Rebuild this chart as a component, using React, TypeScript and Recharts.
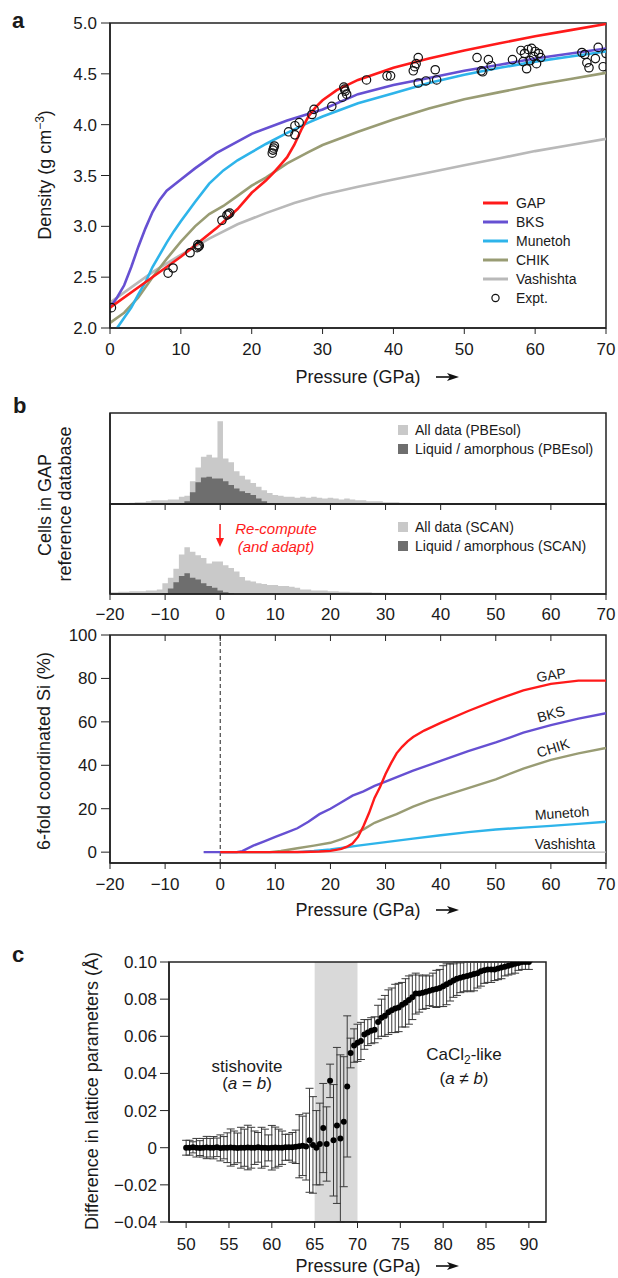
import React from 'react';
import {
  ComposedChart, Line, Scatter, XAxis, YAxis, AreaChart, Area,
  ReferenceLine, ReferenceArea, ScatterChart, ErrorBar,
} from 'recharts';

const FONT = '"Liberation Sans", Arial, Helvetica, sans-serif';
const AX = '#222222';
const TXT = '#1a1a1a';

const C_GAP = '#ff1a1a';
const C_BKS = '#6650d2';
const C_MUN = '#2eb4ea';
const C_CHIK = '#999c74';
const C_VAS = '#b9b9b9';
const C_LIGHT = '#c9c9c9';
const C_DARK = '#6e6e6e';

// ---------- Panel a: density vs pressure ----------
const gapP = [0, 5, 10, 15, 18, 20, 22, 23, 24, 25, 26, 27, 28, 29, 30, 32, 35, 40, 45, 50, 55, 60, 65, 70];
const gapRho = [2.2, 2.45, 2.7, 2.98, 3.17, 3.33, 3.45, 3.52, 3.6, 3.68, 3.8, 3.95, 4.08, 4.17, 4.24, 4.34, 4.44, 4.56, 4.65, 4.73, 4.8, 4.87, 4.93, 4.99];
const bksP = [0, 1, 2, 3, 4, 5, 6, 7, 8, 10, 12, 15, 20, 25, 30, 35, 40, 45, 50, 55, 60, 65, 70];
const bksRho = [2.2, 2.3, 2.42, 2.6, 2.8, 2.98, 3.14, 3.26, 3.35, 3.46, 3.57, 3.72, 3.91, 4.04, 4.15, 4.3, 4.39, 4.46, 4.53, 4.59, 4.65, 4.7, 4.75];
const munP = [1, 2, 3, 4, 5, 6, 7, 8, 9, 10, 12, 14, 16, 18, 20, 22, 25, 28, 30, 35, 40, 45, 50, 55, 60, 65, 70];
const munRho = [2.0, 2.1, 2.2, 2.33, 2.45, 2.6, 2.72, 2.84, 2.95, 3.05, 3.24, 3.42, 3.55, 3.65, 3.73, 3.81, 3.92, 4.02, 4.08, 4.21, 4.31, 4.41, 4.49, 4.56, 4.62, 4.67, 4.72];
const chikP = [0, 2, 4, 6, 8, 10, 12, 14, 16, 18, 20, 22, 25, 28, 30, 35, 40, 45, 50, 55, 60, 65, 70];
const chikRho = [2.05, 2.15, 2.3, 2.5, 2.68, 2.85, 3.0, 3.12, 3.2, 3.3, 3.4, 3.48, 3.62, 3.73, 3.8, 3.93, 4.05, 4.16, 4.25, 4.32, 4.39, 4.45, 4.51];
const vasP = [0, 3, 6, 10, 14, 18, 22, 26, 30, 35, 40, 45, 50, 55, 60, 65, 70];
const vasRho = [2.25, 2.4, 2.55, 2.72, 2.88, 3.02, 3.13, 3.23, 3.31, 3.39, 3.46, 3.53, 3.6, 3.67, 3.74, 3.8, 3.86];
const exptP = [0.2, 8.2, 8.9, 11.3, 12.3, 12.5, 12.6, 12.4, 15.8, 16.5, 16.7, 16.9, 22.9, 23.0, 23.1, 23.2, 25.2, 26.1, 26.1, 26.7, 28.5, 28.8, 31.3, 32.8, 33.0, 33.2, 33.4, 33.1, 36.2, 39.1, 39.6, 43.5, 43.2, 43.0, 42.8, 43.5, 44.6, 45.9, 46.1, 51.8, 52.4, 52.6, 53.4, 53.8, 56.8, 58.0, 58.5, 59.0, 59.5, 60.0, 60.5, 58.3, 59.3, 60.2, 58.8, 59.8, 60.8, 66.6, 67.0, 67.3, 67.6, 68.5, 68.9, 69.6, 70.0];
const exptRho = [2.2, 2.54, 2.59, 2.74, 2.79, 2.8, 2.81, 2.82, 3.06, 3.11, 3.12, 3.13, 3.72, 3.75, 3.77, 3.79, 3.93, 3.9, 3.99, 4.02, 4.1, 4.15, 4.18, 4.27, 4.37, 4.33, 4.3, 4.35, 4.44, 4.48, 4.48, 4.66, 4.6, 4.57, 4.53, 4.41, 4.43, 4.54, 4.44, 4.66, 4.53, 4.52, 4.64, 4.58, 4.64, 4.73, 4.7, 4.74, 4.75, 4.72, 4.7, 4.62, 4.63, 4.6, 4.55, 4.67, 4.66, 4.71, 4.69, 4.61, 4.56, 4.65, 4.76, 4.57, 4.7];
const densityTicksX = [0, 10, 20, 30, 40, 50, 60, 70];
const densityTicksY = [2.0, 2.5, 3.0, 3.5, 4.0, 4.5, 5.0];

// ---------- Panel b: histograms ----------
const histP = [-20, -19, -18, -17, -16, -15, -14, -13, -12, -11, -10, -9, -8, -7, -6, -5, -4, -3, -2, -1, 0, 1, 2, 3, 4, 5, 6, 7, 8, 9, 10, 11, 12, 13, 14, 15, 16, 17, 18, 19, 20, 21, 22, 23, 24, 25, 26, 27, 28, 29, 30, 31, 32, 33, 34, 35, 36, 37, 38, 39, 40, 41, 42, 43, 44, 45];
const pbeAll = [0.5, 0.5, 1, 1, 1.5, 2, 2, 3, 4, 4, 4, 5, 5, 8, 9, 25, 40, 52, 54, 51, 91, 50, 46, 36, 31, 27, 23, 19, 15, 12, 10, 9, 8, 8, 7, 8, 7, 8, 7, 6, 7, 6, 5, 6, 5, 4, 4, 3, 3, 3, 2, 2, 2, 1.5, 1.5, 1, 1, 1, 1, 0.5, 0, 0, 0, 0, 0, 0];
const pbeLiq = [0, 0, 0, 0, 0, 0, 0, 0, 0, 0, 0, 0, 0, 1, 3, 13, 24, 29, 30, 28, 28, 25, 21, 17, 14, 12, 10, 6, 3, 1, 0, 0, 0, 0, 0, 0, 0, 0, 0, 0, 0, 0, 0, 0, 0, 0, 0, 0, 0, 0, 0, 0, 0, 0, 0, 0, 0, 0, 0, 0, 0, 0, 0, 0, 0, 0];
const scanAll = [2, 2, 2.5, 2.5, 3, 3, 3, 4, 4, 5, 12, 18, 28, 44, 52, 47, 43, 40, 34, 36, 36, 32, 29, 25, 19, 15, 14, 12, 11, 10, 10, 9, 9, 8, 7, 5, 5, 4, 4, 4, 3, 3, 2.5, 2.5, 2, 2, 2, 2, 1.5, 1.5, 1.5, 1, 1, 1, 1, 1, 0.5, 0.5, 0.5, 0.5, 0.5, 0.3, 0, 0, 0, 0];
const scanLiq = [0, 0, 0, 0, 0, 0, 0, 0, 0, 0, 1, 6, 13, 20, 23, 18, 16, 12, 9, 7, 4, 2, 1, 0, 0, 0, 0, 0, 0, 0, 0, 0, 0, 0, 0, 0, 0, 0, 0, 0, 0, 0, 0, 0, 0, 0, 0, 0, 0, 0, 0, 0, 0, 0, 0, 0, 0, 0, 0, 0, 0, 0, 0, 0, 0, 0];
const bTicksX = [-20, -10, 0, 10, 20, 30, 40, 50, 60, 70];

// ---------- Panel b: 6-fold coordinated Si ----------
const gap6P = [0, 10, 15, 18, 20, 22, 23, 24, 25, 26, 27, 28, 29, 30, 31, 32, 33, 34, 35, 37, 40, 45, 50, 55, 60, 65, 70];
const gap6V = [0, 0, 0.1, 0.3, 0.6, 1.5, 2.5, 4, 7, 12, 18, 25, 30, 36, 41, 45.5, 48.5, 51, 53, 56, 59.5, 65, 70, 74.5, 77.5, 79, 79];
const bks6P = [-3, 3, 4, 6, 8, 10, 12, 14, 16, 18, 20, 22, 24, 26, 28, 30, 35, 40, 45, 50, 55, 60, 65, 70];
const bks6V = [0, 0, 0.5, 3, 5, 7, 9, 11, 14, 17.5, 20, 23, 26, 28, 30.5, 32.5, 37.5, 42, 46.5, 50.5, 55, 58.5, 61.5, 64];
const chik6P = [0, 9, 11, 14, 17, 20, 22, 24, 26, 28, 30, 32, 35, 38, 40, 45, 50, 55, 60, 65, 70];
const chik6V = [0, 0, 0.5, 1.8, 3, 4.3, 6, 8, 10.5, 13.5, 15.5, 17.5, 21, 23.8, 25.5, 29.5, 33.5, 38.5, 42.5, 45.5, 48];
const mun6P = [0, 14, 17, 20, 25, 30, 35, 40, 45, 50, 55, 60, 65, 70];
const mun6V = [0, 0, 0.5, 1.2, 3, 4.6, 6.2, 7.8, 9.2, 10.4, 11.3, 12.1, 13, 14];
const vas6P = [-3, 70];
const vas6V = [0, 0];
const sixTicksY = [0, 20, 40, 60, 80, 100];
const sixDomainY = [-5, 100];

// ---------- Panel c: lattice parameter difference ----------
const diffP = [50.0, 50.4, 50.8, 51.2, 51.6, 52.0, 52.4, 52.8, 53.2, 53.6, 54.0, 54.4, 54.8, 55.2, 55.6, 56.0, 56.4, 56.8, 57.2, 57.6, 58.0, 58.4, 58.8, 59.2, 59.6, 60.0, 60.4, 60.8, 61.2, 61.6, 62.0, 62.4, 62.8, 63.2, 63.6, 64.0, 64.4, 64.8, 65.2, 65.6, 66.0, 66.4, 66.8, 67.2, 67.6, 68.0, 68.4, 68.8, 69.2, 69.6, 70.0, 70.4, 70.8, 71.2, 71.6, 72.0, 72.4, 72.8, 73.2, 73.6, 74.0, 74.4, 74.8, 75.2, 75.6, 76.0, 76.4, 76.8, 77.2, 77.6, 78.0, 78.4, 78.8, 79.2, 79.6, 80.0, 80.4, 80.8, 81.2, 81.6, 82.0, 82.4, 82.8, 83.2, 83.6, 84.0, 84.4, 84.8, 85.2, 85.6, 86.0, 86.4, 86.8, 87.2, 87.6, 88.0, 88.4, 88.8, 89.2, 89.6, 90.0];
const diffV = [0, 0, 0.0002, 0, -0.0002, 0, 0.0001, 0, 0, 0.0002, -0.0001, 0, 0, 0.0001, 0, -0.0001, 0, 0, 0.0001, 0, 0, 0.0002, 0, 0, -0.0001, 0, 0.0001, 0, 0, 0.0002, 0.0003, 0.0002, 0.0005, 0.0008, 0.001, 0.0006,
  0.004, 0.0015, 0, 0.002, 0.0106, 0.002, 0.036, 0.004, 0.012, 0.005, 0.014, 0.033, 0.051, 0.055, 0.0565,
  0.0575, 0.061, 0.062, 0.063, 0.0635, 0.0677, 0.07, 0.071, 0.073, 0.074,
  0.075, 0.0755, 0.077, 0.078, 0.0795, 0.081, 0.083, 0.083, 0.0835, 0.084,
  0.0845, 0.085, 0.0855, 0.086, 0.087, 0.088, 0.089, 0.09, 0.091, 0.0915,
  0.092, 0.0925, 0.093, 0.0935, 0.094, 0.095, 0.0955, 0.096, 0.096, 0.096,
  0.0965, 0.097, 0.0975, 0.098, 0.0985, 0.099, 0.0995, 0.1, 0.1, 0.1];
const diffErr = [0.004, 0.004, 0.003, 0.005, 0.004, 0.005, 0.006, 0.005, 0.006, 0.005, 0.007, 0.006, 0.008, 0.01, 0.009, 0.008, 0.011, 0.01, 0.012, 0.011, 0.009, 0.008, 0.011, 0.01, 0.007, 0.012, 0.011, 0.01, 0.009, 0.007, 0.007, 0.008, 0.009, 0.017, 0.016, 0.018,
  0.028, 0.026, 0.02, 0.022, 0.024, 0.02, 0.009, 0.03, 0.042, 0.045, 0.035, 0.038, 0.008, 0.009, 0.01,
  0.01, 0.008, 0.007, 0.007, 0.007, 0.009, 0.01, 0.011, 0.012, 0.012,
  0.013, 0.013, 0.012, 0.013, 0.013, 0.012, 0.011, 0.01, 0.009, 0.009,
  0.008, 0.009, 0.01, 0.01, 0.011, 0.011, 0.01, 0.009, 0.009, 0.008,
  0.008, 0.008, 0.009, 0.009, 0.008, 0.008, 0.007, 0.007, 0.007, 0.006,
  0.006, 0.006, 0.005, 0.005, 0.005, 0.005, 0.004, 0.004, 0.004, 0.004];
const cTicksX = [50, 55, 60, 65, 70, 75, 80, 85, 90];
const cTicksY = [-0.04, -0.02, 0, 0.02, 0.04, 0.06, 0.08, 0.1];
const cDomainX = [48, 92];
const cDomainY = [-0.04, 0.1];

// ---------- helpers ----------
const xy = (xs: number[], ys: number[]) => xs.map((x, i) => ({ x, y: ys[i] }));
const minus = (s: string) => s.replace('-', '\u2212');
const tickStyle = { fontSize: 17, fill: TXT, fontFamily: FONT };

const gapData = xy(gapP, gapRho);
const bksData = xy(bksP, bksRho);
const munData = xy(munP, munRho);
const chikData = xy(chikP, chikRho);
const vasData = xy(vasP, vasRho);
const exptData = xy(exptP, exptRho);

const pbeData = histP.map((p, i) => ({ p, all: pbeAll[i], liq: pbeLiq[i] }));
const scanData = histP.map((p, i) => ({ p, all: scanAll[i], liq: scanLiq[i] }));

const gap6 = xy(gap6P, gap6V);
const bks6 = xy(bks6P, bks6V);
const chik6 = xy(chik6P, chik6V);
const mun6 = xy(mun6P, mun6V);
const vas6 = xy(vas6P, vas6V);
// inward tick marks on the top frame of the 6-fold plot: 6 px long (plot is 228 px tall)
const topTickLen = (6 / 228) * (sixDomainY[1] - sixDomainY[0]);

// error bars are clipped at the plot frame, as in the original figure
const diffData = diffP.map((x, i) => {
  const y = diffV[i];
  const e = diffErr[i];
  return { x, y, err: [Math.min(e, y - cDomainY[0]), Math.min(e, cDomainY[1] - y)] };
});

const openCircle = (p: any) => (
  <circle cx={p.cx} cy={p.cy} r={4.2} fill="none" stroke="#111" strokeWidth={1.2} />
);
const filledDot = (p: any) => <circle cx={p.cx} cy={p.cy} r={3} fill="#000" />;

const abs = (left: number, top: number, extra: React.CSSProperties = {}): React.CSSProperties => ({
  position: 'absolute', left, top, fontFamily: FONT, color: TXT, whiteSpace: 'nowrap', lineHeight: 1, ...extra,
});

const Centered = ({ x, y, size, rot = 0, color = TXT, italic = false, children }: any) => (
  <div style={abs(x, y, {
    transform: `translate(-50%, -50%) rotate(${rot}deg)`, fontSize: size, color,
    fontStyle: italic ? 'italic' : 'normal',
  })}>{children}</div>
);

const PressureTitle = ({ y }: { y: number }) => (
  <>
    <Centered x={358} y={y} size={18}>Pressure (GPa)</Centered>
    <svg style={{ position: 'absolute', left: 436, top: y - 5 }} width={24} height={10}>
      <line x1={0} y1={5} x2={15} y2={5} stroke="#111" strokeWidth={1.6} />
      <polygon points="11,1 23,5 11,9 14,5" fill="#111" />
    </svg>
  </>
);

const frameLine = { stroke: AX, strokeWidth: 1.5 };
const Frame = (x1: number, x2: number, y1: number, y2: number) => (
  <ReferenceArea x1={x1} x2={x2} y1={y1} y2={y2} fill="none" fillOpacity={0} stroke={AX} strokeWidth={1.5} />
);

export default function App() {
  return (
    <div style={{ position: 'absolute', left: 0, top: 0, width: 618, height: 1278, background: '#fff', overflow: 'hidden' }}>
      {/* ---------------- Panel a ---------------- */}
      <div style={{ position: 'absolute', left: 0, top: 0 }}>
        <ComposedChart width={618} height={400} margin={{ top: 23, right: 12, bottom: 32, left: 0 }}>
          <XAxis dataKey="x" type="number" domain={[0, 70]} ticks={densityTicksX} allowDataOverflow
            height={40} tickSize={6} tickMargin={9} tick={tickStyle} axisLine={frameLine} tickLine={{ stroke: AX }} />
          <YAxis dataKey="y" type="number" domain={[2, 5]} ticks={densityTicksY} allowDataOverflow width={110}
            tickSize={9} tickMargin={4} tick={tickStyle} tickFormatter={(v: number) => v.toFixed(1)}
            axisLine={frameLine} tickLine={{ stroke: AX }} />
          {Frame(0, 70, 2, 5)}
          <Line data={vasData} dataKey="y" stroke={C_VAS} strokeWidth={2.6} dot={false} isAnimationActive={false} />
          <Line data={chikData} dataKey="y" stroke={C_CHIK} strokeWidth={2.6} dot={false} isAnimationActive={false} />
          <Line data={munData} dataKey="y" stroke={C_MUN} strokeWidth={2.6} dot={false} isAnimationActive={false} />
          <Line data={bksData} dataKey="y" stroke={C_BKS} strokeWidth={2.6} dot={false} isAnimationActive={false} />
          <Line data={gapData} dataKey="y" stroke={C_GAP} strokeWidth={2.6} dot={false} isAnimationActive={false} />
          <Scatter data={exptData} dataKey="y" shape={openCircle} isAnimationActive={false} />
        </ComposedChart>
      </div>
      <div style={abs(12, 10, { fontSize: 22, fontWeight: 'bold' })}>a</div>
      <Centered x={44} y={175} size={18} rot={-90}>Density (g cm<sup style={{ fontSize: 12 }}>−3</sup>)</Centered>
      <PressureTitle y={377} />
      <svg style={{ position: 'absolute', left: 480, top: 193 }} width={32} height={115}>
        <line x1={3} x2={28} y1={10} y2={10} stroke={C_GAP} strokeWidth={3} />
        <line x1={3} x2={28} y1={29} y2={29} stroke={C_BKS} strokeWidth={3} />
        <line x1={3} x2={28} y1={48} y2={48} stroke={C_MUN} strokeWidth={3} />
        <line x1={3} x2={28} y1={67} y2={67} stroke={C_CHIK} strokeWidth={3} />
        <line x1={3} x2={28} y1={86} y2={86} stroke={C_VAS} strokeWidth={3} />
        <circle cx={15.5} cy={105} r={3.6} fill="none" stroke="#111" strokeWidth={1.2} />
      </svg>
      {['GAP', 'BKS', 'Munetoh', 'CHIK', 'Vashishta', 'Expt.'].map((t, i) => (
        <div key={t} style={abs(516, 203 + i * 19, { fontSize: 14, transform: 'translateY(-50%)' })}>{t}</div>
      ))}

      {/* ---------------- Panel b histograms ---------------- */}
      <div style={{ position: 'absolute', left: 0, top: 400 }}>
        <AreaChart width={618} height={120} data={pbeData} margin={{ top: 13, right: 12, bottom: 0, left: 0 }}>
          <XAxis dataKey="p" type="number" domain={[-20, 70]} ticks={bTicksX} allowDataOverflow height={16}
            tickSize={6} tickFormatter={() => ''} axisLine={frameLine} tickLine={{ stroke: AX }} />
          <YAxis type="number" domain={[0, 100]} width={110} tick={false} tickLine={false} axisLine={frameLine} />
          <Area type="step" dataKey="all" stroke="none" fill={C_LIGHT} fillOpacity={1} isAnimationActive={false} />
          <Area type="step" dataKey="liq" stroke="none" fill={C_DARK} fillOpacity={1} isAnimationActive={false} />
          {Frame(-20, 70, 0, 100)}
        </AreaChart>
      </div>
      <div style={{ position: 'absolute', left: 0, top: 500 }}>
        <AreaChart width={618} height={130} data={scanData} margin={{ top: 4, right: 12, bottom: 0, left: 0 }}>
          <XAxis dataKey="p" type="number" domain={[-20, 70]} ticks={bTicksX} allowDataOverflow height={36}
            tickSize={6} tickMargin={8} tick={tickStyle} tickFormatter={(v: number) => minus(String(v))}
            axisLine={frameLine} tickLine={{ stroke: AX }} />
          <YAxis type="number" domain={[0, 100]} width={110} tick={false} tickLine={false} axisLine={frameLine} />
          <Area type="step" dataKey="all" stroke="none" fill={C_LIGHT} fillOpacity={1} isAnimationActive={false} />
          <Area type="step" dataKey="liq" stroke="none" fill={C_DARK} fillOpacity={1} isAnimationActive={false} />
          {Frame(-20, 70, 0, 100)}
        </AreaChart>
      </div>
      <div style={abs(13, 395, { fontSize: 22, fontWeight: 'bold' })}>b</div>
      <Centered x={45} y={505} size={18} rot={-90}>Cells in GAP</Centered>
      <Centered x={65} y={504} size={18} rot={-90}>reference database</Centered>
      {[
        { y: 430, c: C_LIGHT, t: 'All data (PBEsol)' },
        { y: 449, c: C_DARK, t: 'Liquid / amorphous (PBEsol)' },
        { y: 527, c: C_LIGHT, t: 'All data (SCAN)' },
        { y: 546, c: C_DARK, t: 'Liquid / amorphous (SCAN)' },
      ].map((r) => (
        <React.Fragment key={r.t}>
          <div style={{ position: 'absolute', left: 398, top: r.y - 5, width: 10, height: 10, background: r.c }} />
          <div style={abs(415, r.y, { fontSize: 14, transform: 'translateY(-50%)' })}>{r.t}</div>
        </React.Fragment>
      ))}
      <svg style={{ position: 'absolute', left: 212, top: 520 }} width={16} height={30}>
        <line x1={8} y1={4} x2={8} y2={20} stroke="#ff1a1a" strokeWidth={1.6} />
        <polygon points="4,18 12,18 8,27" fill="#ff1a1a" />
      </svg>
      <Centered x={276} y={528} size={15} color="#ff1a1a" italic>Re-compute</Centered>
      <Centered x={276} y={546} size={15} color="#ff1a1a" italic>(and adapt)</Centered>

      {/* ---------------- Panel b: 6-fold ---------------- */}
      <div style={{ position: 'absolute', left: 0, top: 620 }}>
        <ComposedChart width={618} height={300} margin={{ top: 15, right: 12, bottom: 17, left: 0 }}>
          <XAxis dataKey="x" type="number" domain={[-20, 70]} ticks={bTicksX} allowDataOverflow height={40}
            tickSize={6} tickMargin={9} tick={tickStyle} tickFormatter={(v: number) => minus(String(v))}
            axisLine={frameLine} tickLine={{ stroke: AX }} />
          <YAxis dataKey="y" type="number" domain={sixDomainY} ticks={sixTicksY} allowDataOverflow width={110}
            tickSize={9} tickMargin={4} tick={tickStyle} axisLine={frameLine} tickLine={{ stroke: AX }} />
          {Frame(-20, 70, sixDomainY[0], sixDomainY[1])}
          {bTicksX.slice(1, -1).map((t) => (
            <ReferenceLine key={t} segment={[{ x: t, y: sixDomainY[1] }, { x: t, y: sixDomainY[1] - topTickLen }]}
              stroke={AX} strokeWidth={1} />
          ))}
          <ReferenceLine x={0} stroke="#222" strokeDasharray="4 3" strokeWidth={1} />
          <Line data={vas6} dataKey="y" stroke={C_VAS} strokeWidth={1.2} dot={false} isAnimationActive={false} />
          <Line data={mun6} dataKey="y" stroke={C_MUN} strokeWidth={2.4} dot={false} isAnimationActive={false} />
          <Line data={chik6} dataKey="y" stroke={C_CHIK} strokeWidth={2.4} dot={false} isAnimationActive={false} />
          <Line data={bks6} dataKey="y" stroke={C_BKS} strokeWidth={2.4} dot={false} isAnimationActive={false} />
          <Line data={gap6} dataKey="y" stroke={C_GAP} strokeWidth={2.4} dot={false} isAnimationActive={false} />
        </ComposedChart>
      </div>
      <Centered x={44} y={751} size={18} rot={-90}>6-fold coordinated Si (%)</Centered>
      <Centered x={551} y={675} size={14} rot={-9}>GAP</Centered>
      <Centered x={551} y={714} size={14} rot={-15}>BKS</Centered>
      <Centered x={553} y={748} size={14} rot={-17}>CHIK</Centered>
      <Centered x={562} y={813} size={14} rot={-4}>Munetoh</Centered>
      <Centered x={565} y={844} size={14}>Vashishta</Centered>
      <PressureTitle y={910} />

      {/* ---------------- Panel c ---------------- */}
      <div style={{ position: 'absolute', left: 0, top: 940 }}>
        <ScatterChart width={618} height={338} margin={{ top: 22, right: 72, bottom: 16, left: 0 }}>
          <XAxis dataKey="x" type="number" domain={cDomainX} ticks={cTicksX} allowDataOverflow height={40}
            tickSize={6} tickMargin={10} tick={tickStyle} axisLine={frameLine} tickLine={{ stroke: AX }} />
          <YAxis dataKey="y" type="number" domain={cDomainY} ticks={cTicksY} allowDataOverflow width={169}
            tickSize={9} tickMargin={3} tick={tickStyle}
            tickFormatter={(v: number) => (Math.abs(v) < 1e-9 ? '0' : minus(v.toFixed(2)))}
            axisLine={frameLine} tickLine={{ stroke: AX }} />
          <ReferenceArea x1={65} x2={70} y1={cDomainY[0]} y2={cDomainY[1]} fill="#d9d9d9" fillOpacity={1} stroke="none" />
          {Frame(cDomainX[0], cDomainX[1], cDomainY[0], cDomainY[1])}
          <Scatter data={diffData} dataKey="y" shape={filledDot} isAnimationActive={false}>
            <ErrorBar dataKey="err" direction="y" width={4} stroke="#3a3a3a" strokeWidth={1} />
          </Scatter>
        </ScatterChart>
      </div>
      <div style={abs(12, 944, { fontSize: 22, fontWeight: 'bold' })}>c</div>
      <Centered x={92} y={1091} size={18} rot={-90}>Difference in lattice parameters (Å)</Centered>
      <Centered x={247} y={1066} size={17}>stishovite</Centered>
      <Centered x={247} y={1083} size={17}>(<i>a</i> = <i>b</i>)</Centered>
      <Centered x={464} y={1056} size={17}>CaCl<sub style={{ fontSize: 12 }}>2</sub>-like</Centered>
      <Centered x={464} y={1078} size={17}>(<i>a</i> ≠ <i>b</i>)</Centered>
      <PressureTitle y={1266} />
    </div>
  );
}
